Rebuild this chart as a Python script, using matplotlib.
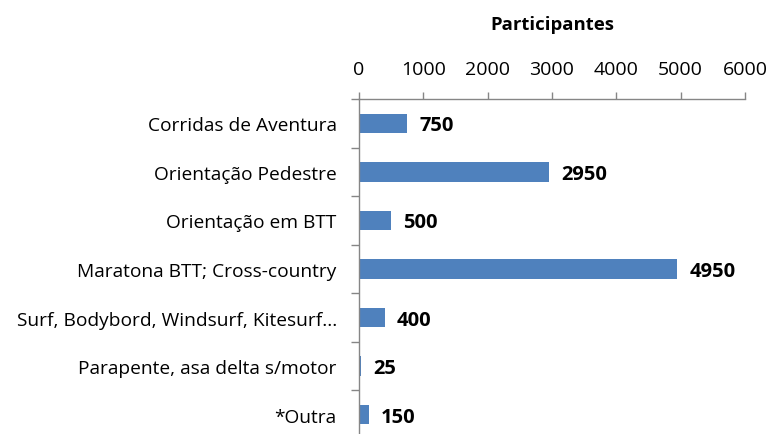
import matplotlib
matplotlib.use("Agg")
import matplotlib.pyplot as plt
import numpy as np

categories = ["Corridas de Aventura", "Orientação Pedestre", "Orientação em BTT",
              "Maratona BTT; Cross-country", "Surf, Bodybord, Windsurf, Kitesurf...",
              "Parapente, asa delta s/motor", "*Outra"]
values = [750, 2950, 500, 4950, 400, 25, 150]
xticks = [0, 1000, 2000, 3000, 4000, 5000, 6000]

plt.rcParams['font.family'] = ['Open Sans', 'DejaVu Sans']
W, H = 771, 435
fig = plt.figure(figsize=(W/100, H/100), dpi=100)
left, right, top, bottom = 359, 745, 100, 440
ax = fig.add_axes([left/W, 1-bottom/H, (right-left)/W, (bottom-top)/H])

n = len(categories)
y = np.arange(n)
ax.barh(y, values, height=0.4, color='#4F81BD', zorder=2)
ax.set_ylim(n-0.5, -0.5)
ax.set_xlim(0, 6000)

ax.xaxis.tick_top()
ax.set_xticks(xticks)
ax.set_xticklabels([str(t) for t in xticks], fontsize=14)
ax.tick_params(axis='x', direction='out', length=5, width=1, color='#868686', pad=10)
ax.set_yticks(y)
ax.set_yticklabels(categories, fontsize=13.8)
ax.set_yticks(np.arange(n+1)-0.5, minor=True)
ax.tick_params(axis='y', which='major', length=0, pad=16)
ax.tick_params(axis='y', which='minor', direction='out', length=6, width=1, color='#868686')

for s in ['right', 'bottom']:
    ax.spines[s].set_visible(False)
for s in ['top', 'left']:
    ax.spines[s].set_color('#868686')
    ax.spines[s].set_linewidth(1)

for yi, v in zip(y, values):
    ax.text(v + 190, yi + 0.04, str(v), va='center', ha='left', fontsize=14.5, fontweight='bold')

fig.text((left+right)/2/W, 1-25/H, "Participantes", ha='center', va='center',
         fontsize=13.3, fontweight='bold')

fig.savefig("out.png", dpi=100)
